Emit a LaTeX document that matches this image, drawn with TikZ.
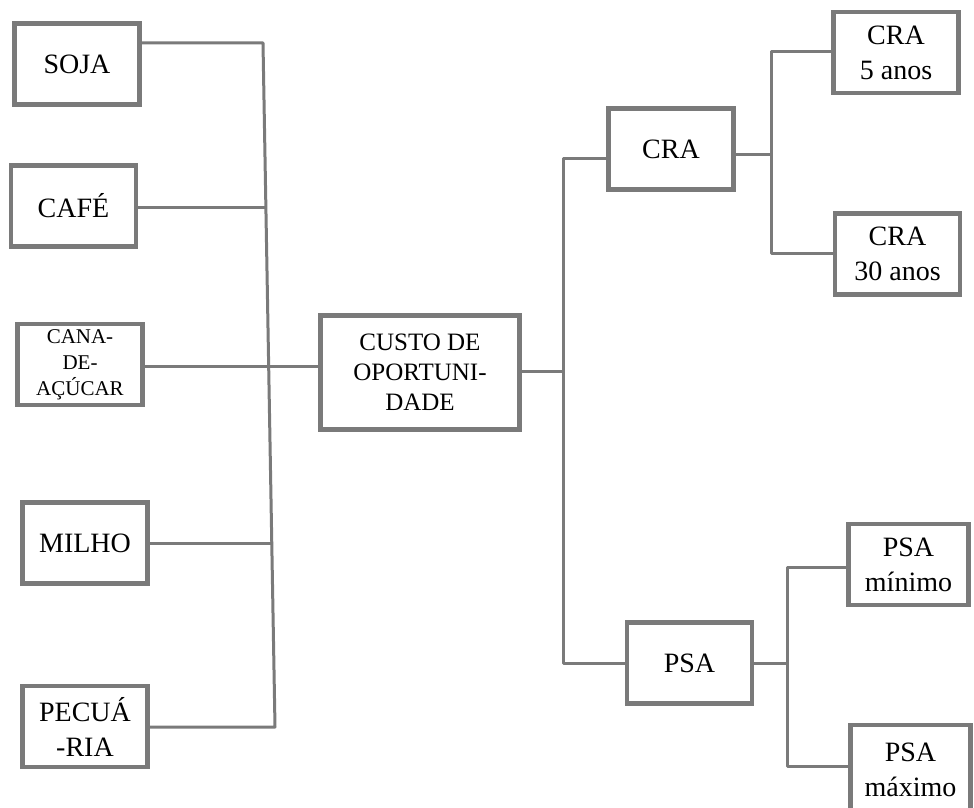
\documentclass[tikz,border=0pt]{standalone}
\usepackage{fontspec}
\setmainfont{Liberation Serif}
\definecolor{ln}{RGB}{122,122,122}
\begin{document}
\begin{tikzpicture}[x=1pt,y=-1pt,
  box/.style={draw=ln, line width=4.5pt, fill=white, align=center, inner sep=1pt,
    font=\fontsize{28}{35}\selectfont, minimum width=125pt, minimum height=81pt},
  conn/.style={draw=ln, line width=3pt, line join=round}]
\useasboundingbox (0,0) rectangle (974,808);
\clip (0,0) rectangle (974,808);
% left column
\node[box] (soja) at (77,64) {SOJA};
\node[box] (cafe) at (73.5,206) {CAFÉ};
\node[box, font=\fontsize{21}{26}\selectfont] (cana) at (80,364.5) {CANA-\\DE-\\AÇÚCAR};
\node[box] (milho) at (85,543) {MILHO};
\node[box] (pec) at (85,726.5) {PECUÁ\\-RIA};
% centre
\node[box, font=\fontsize{25}{30}\selectfont, minimum width=199pt, minimum height=114pt] (custo) at (420,372.5) {CUSTO DE\\OPORTUNI-\\DADE};
% right
\node[box] (cra) at (671,149) {CRA};
\node[box] (psa) at (689.5,663) {PSA};
\node[box] (cra5) at (896,52.5) {CRA\\5 anos};
\node[box] (cra30) at (897.5,254) {CRA\\30 anos};
\node[box, minimum width=120pt] (psamin) at (908.5,564.5) {PSA\\mínimo};
\node[box, minimum width=120pt, minimum height=90pt] (psamax) at (910.5,770) {PSA\\máximo};
% coordinates of the left bus
\coordinate (ltop) at (263,43);
\coordinate (lbot) at (275,727);
\coordinate (lcafe) at (265.9,207);
\coordinate (lmilho) at (271.8,543);
% left connectors
\draw[conn] (soja.east |- ltop) -- (ltop) -- (lbot) -- (pec.east |- lbot);
\draw[conn] (cafe.east |- lcafe) -- (lcafe);
\draw[conn] (milho.east |- lmilho) -- (lmilho);
\draw[conn] (cana.east |- 0,366) -- (custo.west |- 0,366);
% right bus
\coordinate (rtop) at (563,158);
\coordinate (rbot) at (563,663);
\coordinate (rmid) at (563,371);
\draw[conn] (custo.east |- rmid) -- (rmid);
\draw[conn] (cra.west |- rtop) -- (rtop) -- (rbot) -- (psa.west |- rbot);
% CRA branch
\coordinate (ctop) at (771,52);
\coordinate (cbot) at (771,253);
\coordinate (cmid) at (771,154);
\draw[conn] (cra.east |- cmid) -- (cmid);
\draw[conn] (cra5.west |- ctop) -- (ctop) -- (cbot) -- (cra30.west |- cbot);
% PSA branch
\coordinate (ptop) at (787,567);
\coordinate (pbot) at (787,766);
\coordinate (pmid) at (787,663);
\draw[conn] (psa.east |- pmid) -- (pmid);
\draw[conn] (psamin.west |- ptop) -- (ptop) -- (pbot) -- (psamax.west |- pbot);
\end{tikzpicture}
\end{document}
